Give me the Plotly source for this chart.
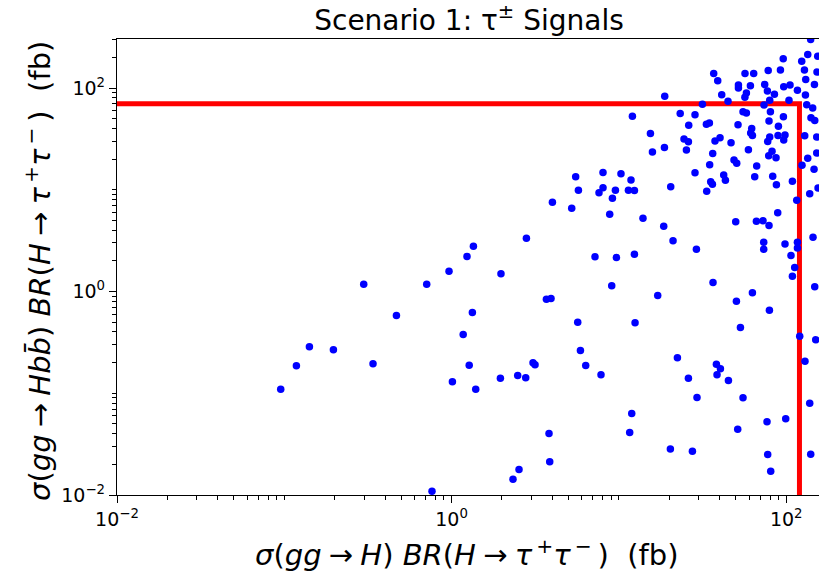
import plotly.graph_objects as go

# sigma(gg->H) BR(H->tau tau) [fb] for each scanned parameter point
sigma_tautau = [
    140, 134.5, 96.0, 123.8, 154.3, 36.87, 56.71, 63.93, 78.06, 92.35,
    128.5, 152.8, 38.96, 130.8, 51.80, 51.80, 61.09, 74.39, 96.63, 105.4,
    116.7, 147.5, 77.20, 85.03, 57.82, 56.63, 41.17, 130.3, 18.79, 31.56,
    44.89, 79.70, 103.9, 73.68, 132.6, 144.0, 55.18, 57.82, 80.47, 23.25,
    28.50, 12.04, 96.23, 140.6, 148.1, 78.93, 26.14, 33.34, 34.75, 51.51,
    89.82, 62.20, 61.35, 62.81, 15.43, 89.33, 98.35, 129.0, 79.70, 24.50,
    26.03, 40.22, 37.53, 77.52, 96.63, 152.2, 46.80, 18.71, 15.86, 25.32,
    59.44, 82.26, 36.37, 152.2, 78.61, 86.91, 134.5, 48.75, 50.61, 34.88,
    66.62, 124.3, 146.7, 28.50, 42.31, 43.31, 64.82, 83.06, 5.516, 8.035,
    10.29, 11.81, 35.37, 36.22, 108.9, 87.39, 20.40, 5.728, 8.035, 7.604,
    9.530, 11.40, 12.38, 33.48, 155.0, 138.2, 9.146, 115.6, 4.005, 5.223,
    8.810, 88.96, 13.93, 49.91, 66.35, 72.66, 78.93, 18.53, 2.800, 21.06,
    144.6, 73.37, 73.37, 98.35, 116.7, 116.7, 29.06, 1.350, 1.236, 7.196,
    9.663, 12.38, 106.8, 112.4, 108.9, 1.973, 9.058, 36.52, 62.81, 148.1,
    3.687, 3.929, 17.06, 50.40, 79.37, 1.331, 5.673, 12.49, 53.25, 1.173,
    120.4, 150.1, 5.888, 22.37, 129.5, 1.274, 3.066, 3.152, 6.333, 38.26,
    40.44, 38.58, 7.816, 1.957, 2.484, 2.773, 26.03, 45.14, 1.394, 29.30,
    55.18, 138.2, 11.93, 99.31, 76.78, 3.822, 11.60, 51.30, 20.31, 27.50,
    77.52, 140.1, 2.529, 3.859, 80.81, 2.328, 0.0952, 0.1181, 0.1413, 0.1966,
    0.2983, 0.3390, 0.4679, 0.7098, 0.7635, 0.9649, 1.011,
]

# sigma(gg->Hbb) BR(H->tau tau) [fb] for the same points
sigma_bb_tautau = [
    300, 213.4, 193.6, 183.4, 205.4, 138.8, 138.8, 138.8, 148.6, 150.3,
    150.3, 143.6, 117.7, 121.2, 107.0, 100.0, 105.3, 108.2, 103.0, 107.0,
    94.93, 108.2, 93.44, 86.71, 89.31, 81.01, 85.73, 85.35, 82.88, 69.31,
    74.00, 75.69, 75.69, 68.07, 68.53, 63.60, 58.50, 56.79, 58.50, 56.15,
    54.64, 52.82, 52.12, 51.06, 47.93, 47.39, 42.99, 43.97, 45.29, 43.48,
    42.02, 39.99, 36.12, 34.14, 35.71, 34.14, 34.52, 33.98, 33.00, 31.53,
    29.66, 32.48, 30.14, 29.80, 30.83, 33.00, 29.00, 26.02, 23.50, 24.59,
    24.75, 23.87, 22.71, 22.97, 21.62, 20.65, 20.37, 19.60, 18.20, 17.59,
    17.12, 17.39, 15.89, 14.71, 13.96, 12.38, 13.40, 13.55, 13.40, 14.78,
    14.38, 12.47, 11.99, 11.31, 12.11, 11.18, 10.71, 9.90, 10.45, 9.33,
    9.88, 9.90, 9.83, 9.656, 10.40, 9.145, 8.26, 7.87, 7.54, 6.59,
    5.75, 5.95, 5.254, 4.853, 4.897, 4.964, 4.453, 4.383, 3.343, 3.150,
    3.412, 3.051, 2.600, 2.930, 3.044, 2.677, 2.600, 2.789, 2.208, 2.193,
    2.159, 2.325, 2.258, 1.722, 1.413, 1.493, 1.138, 1.226, 0.971, 1.115,
    0.840, 0.853, 0.914, 0.803, 0.655, 0.622, 0.4994, 0.4926, 0.4426, 0.3780,
    0.3637, 0.3352, 0.2631, 0.2231, 0.2065, 0.1887, 0.1992, 0.1904, 0.1874, 0.1930,
    0.1739, 0.1518, 0.1518, 0.1405, 0.1494, 0.1418, 0.1405, 0.1335, 0.1096, 0.0908,
    0.0902, 0.0799, 0.0632, 0.0561, 0.0524, 0.0402, 0.0411, 0.0443, 0.0284, 0.0269,
    0.0250, 0.0252, 0.0178, 0.0212, 0.0171, 0.0143, 0.1096, 0.1862, 0.2861, 0.2673,
    1.180, 0.1948, 0.5808, 1.180, 0.01090, 1.584, 0.1296,
]

# Experimental limits (fb) bounding the allowed region
limit_x = 120.0
limit_y = 70.0
axis_min = 0.01

tick_vals = [1e-2, 1e0, 1e2]
tick_text = ["10<sup>\u22122</sup>", "10<sup>0</sup>", "10<sup>2</sup>"]
minor_vals = [m * 10.0 ** e for e in range(-2, 3) for m in range(1, 10)
              if not (m == 1 and e % 2 == 0)]

FONT = "DejaVu Sans"
LABEL_SIZE = 29

fig = go.Figure()

fig.add_trace(go.Scatter(
    x=[axis_min, limit_x, limit_x],
    y=[limit_y, limit_y, axis_min],
    mode="lines",
    line=dict(color="#ff0000", width=5),
    hoverinfo="skip",
    showlegend=False,
))

fig.add_trace(go.Scatter(
    x=sigma_tautau,
    y=sigma_bb_tautau,
    mode="markers",
    marker=dict(color="#0000ff", size=7.5, line=dict(width=0)),
    showlegend=False,
))

axis_common = dict(
    type="log",
    showgrid=False,
    zeroline=False,
    showline=True,
    linecolor="black",
    linewidth=1.3,
    ticks="outside",
    ticklen=7,
    tickwidth=1.3,
    tickcolor="black",
    tickmode="array",
    tickvals=tick_vals,
    ticktext=tick_text,
    tickfont=dict(family=FONT, size=19, color="black"),
    minor=dict(ticks="outside", ticklen=4, tickwidth=1, tickcolor="black",
               tickmode="array", tickvals=minor_vals, showgrid=False),
)

W, H = 819, 581
L, R, T, B = 117, 0, 39, 86
plot_w = W - L - R
plot_h = H - T - B

arrow = "\u2005\u2192\u2005"
tau_pair = "<i>\u03c4</i><sup>\u2009+</sup><i>\u03c4</i><sup>\u2009\u2212</sup>"

x_label = (f"<i>\u03c3</i>(<i>gg</i>{arrow}<i>H</i>)\u00a0<i>BR</i>"
           f"(<i>H</i>{arrow}{tau_pair}\u2009)\u00a0\u00a0(fb)")
y_label = (f"<i>\u03c3</i>(<i>gg</i>{arrow}<i>Hbb\u0304</i>)\u00a0<i>BR</i>"
           f"(<i>H</i>{arrow}{tau_pair}\u2009)\u00a0\u00a0(fb)")

fig.update_layout(
    width=W,
    height=H,
    margin=dict(l=L, r=R, t=T, b=B, pad=0),
    plot_bgcolor="white",
    paper_bgcolor="white",
    xaxis=dict(axis_common, range=[-2, 2.196], mirror=True),
    yaxis=dict(axis_common, range=[-2, 2.4816], mirror=False),
    title=dict(
        text="Scenario 1: \u03c4<sup>\u00b1</sup> Signals",
        x=469 / W,
        xanchor="center",
        xref="container",
        y=1 - 20 / H,
        yanchor="middle",
        yref="container",
        font=dict(family=FONT, size=28, color="black"),
    ),
    annotations=[
        dict(
            text=x_label,
            xref="paper", yref="paper",
            x=(467 - L) / plot_w, y=-(553 - (T + plot_h)) / plot_h,
            xanchor="center", yanchor="middle",
            showarrow=False,
            font=dict(family=FONT, size=LABEL_SIZE, color="black"),
        ),
        dict(
            text=y_label,
            xref="paper", yref="paper",
            x=(38 - L) / plot_w, y=1 - (271 - T) / plot_h,
            xanchor="center", yanchor="middle",
            textangle=-90,
            showarrow=False,
            font=dict(family=FONT, size=LABEL_SIZE, color="black"),
        ),
    ],
)

fig.write_html("out.html")
